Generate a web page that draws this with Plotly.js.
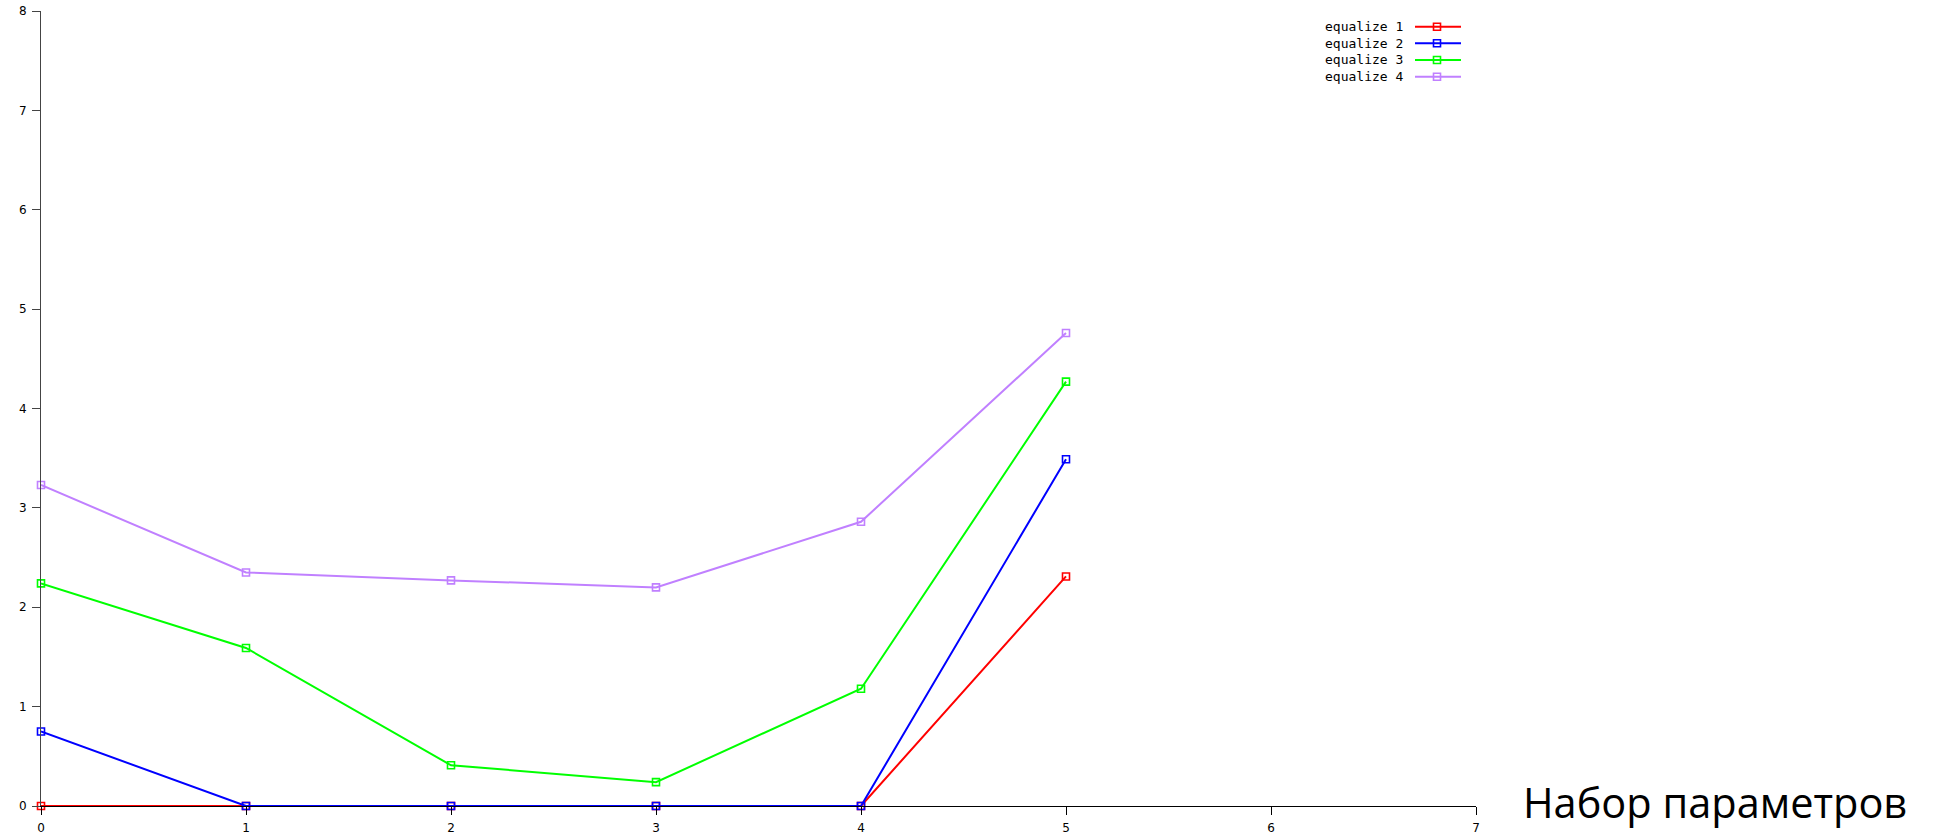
<!DOCTYPE html>
<html>
<head>
<meta charset="utf-8">
<script src="https://cdn.plot.ly/plotly-3.0.1.min.js"></script>
<style>html,body{margin:0;padding:0;background:#fff;}#chart{width:1941px;height:835px;}</style>
</head>
<body>
<div id="chart"></div>
<script>
const xValues = [0, 1, 2, 3, 4, 5];
const equalize1 = [0, 0, 0, 0, 0, 2.31];
const equalize2 = [0.75, 0, 0, 0, 0, 3.49];
const equalize3 = [2.24, 1.59, 0.41, 0.24, 1.18, 4.27];
const equalize4 = [3.23, 2.35, 2.27, 2.20, 2.86, 4.76];
const seriesNames = ["equalize 1", "equalize 2", "equalize 3", "equalize 4"];
const xTicks = [0, 1, 2, 3, 4, 5, 6, 7];
const yTicks = [0, 1, 2, 3, 4, 5, 6, 7, 8];
const axisTitle = "Набор параметров";

const colors = ["#ff0000", "#0000ff", "#00ff00", "#c080ff"];
const allSeries = [equalize1, equalize2, equalize3, equalize4];

const W = 1941, H = 835;
const L = 41, R = 1476, T = 11, B = 806;
const px = v => (v - L) / (R - L);
const py = v => (B - v) / (B - T);

const traces = allSeries.map((s, i) => ({
  x: xValues, y: s, name: seriesNames[i], type: 'scatter', mode: 'lines+markers',
  line: {color: colors[i], width: 2},
  marker: {symbol: 'square-open', size: 7, color: colors[i], line: {width: 1.6, color: colors[i]}},
  cliponaxis: false, showlegend: false
}));

const shapes = [];
const annotations = [];
const rowY = [26.7, 43.3, 60, 76.7];
seriesNames.forEach((n, i) => {
  annotations.push({
    xref: 'paper', yref: 'paper', x: px(1405), y: py(rowY[i]), xanchor: 'right', yanchor: 'middle',
    text: n, showarrow: false, font: {family: 'DejaVu Sans Mono', size: 13, color: '#000'}
  });
  shapes.push({type: 'line', xref: 'paper', yref: 'paper', x0: px(1415), x1: px(1461), y0: py(rowY[i]), y1: py(rowY[i]),
    line: {color: colors[i], width: 2}});
  shapes.push({type: 'rect', xref: 'paper', yref: 'paper', xsizemode: 'pixel', ysizemode: 'pixel',
    xanchor: px(1437), yanchor: py(rowY[i]), x0: -3.5, x1: 3.5, y0: -3.5, y1: 3.5,
    line: {color: colors[i], width: 1.6}, fillcolor: 'rgba(0,0,0,0)'});
});
annotations.push({
  xref: 'paper', yref: 'paper', x: px(1521), y: py(802), xanchor: 'left', yanchor: 'middle',
  text: axisTitle, showarrow: false, font: {family: 'Open Sans', size: 41.5, color: '#000'}
});

const layout = {
  width: W, height: H,
  margin: {l: L, r: W - R, t: T, b: H - B, pad: 0},
  paper_bgcolor: '#fff', plot_bgcolor: '#fff',
  showlegend: false,
  font: {family: 'DejaVu Sans', size: 12, color: '#000'},
  xaxis: {range: [0, 7], tickvals: xTicks, ticktext: xTicks.map(String), showgrid: false, zeroline: false,
    showline: true, linecolor: '#000', linewidth: 1, ticks: 'outside', ticklen: 8, tickcolor: '#000',
    ticklabelstandoff: 3,
    tickfont: {family: 'DejaVu Sans', size: 12, color: '#000'}, fixedrange: true},
  yaxis: {range: [0, 8], tickvals: yTicks, ticktext: yTicks.map(String), showgrid: false, zeroline: false,
    showline: true, linecolor: '#444', linewidth: 1, ticks: 'outside', ticklen: 8, tickcolor: '#444',
    ticklabelstandoff: 3,
    tickfont: {family: 'DejaVu Sans', size: 12, color: '#000'}, fixedrange: true},
  shapes: shapes, annotations: annotations
};

Plotly.newPlot('chart', traces, layout, {displayModeBar: false, staticPlot: true});
</script>
</body>
</html>
